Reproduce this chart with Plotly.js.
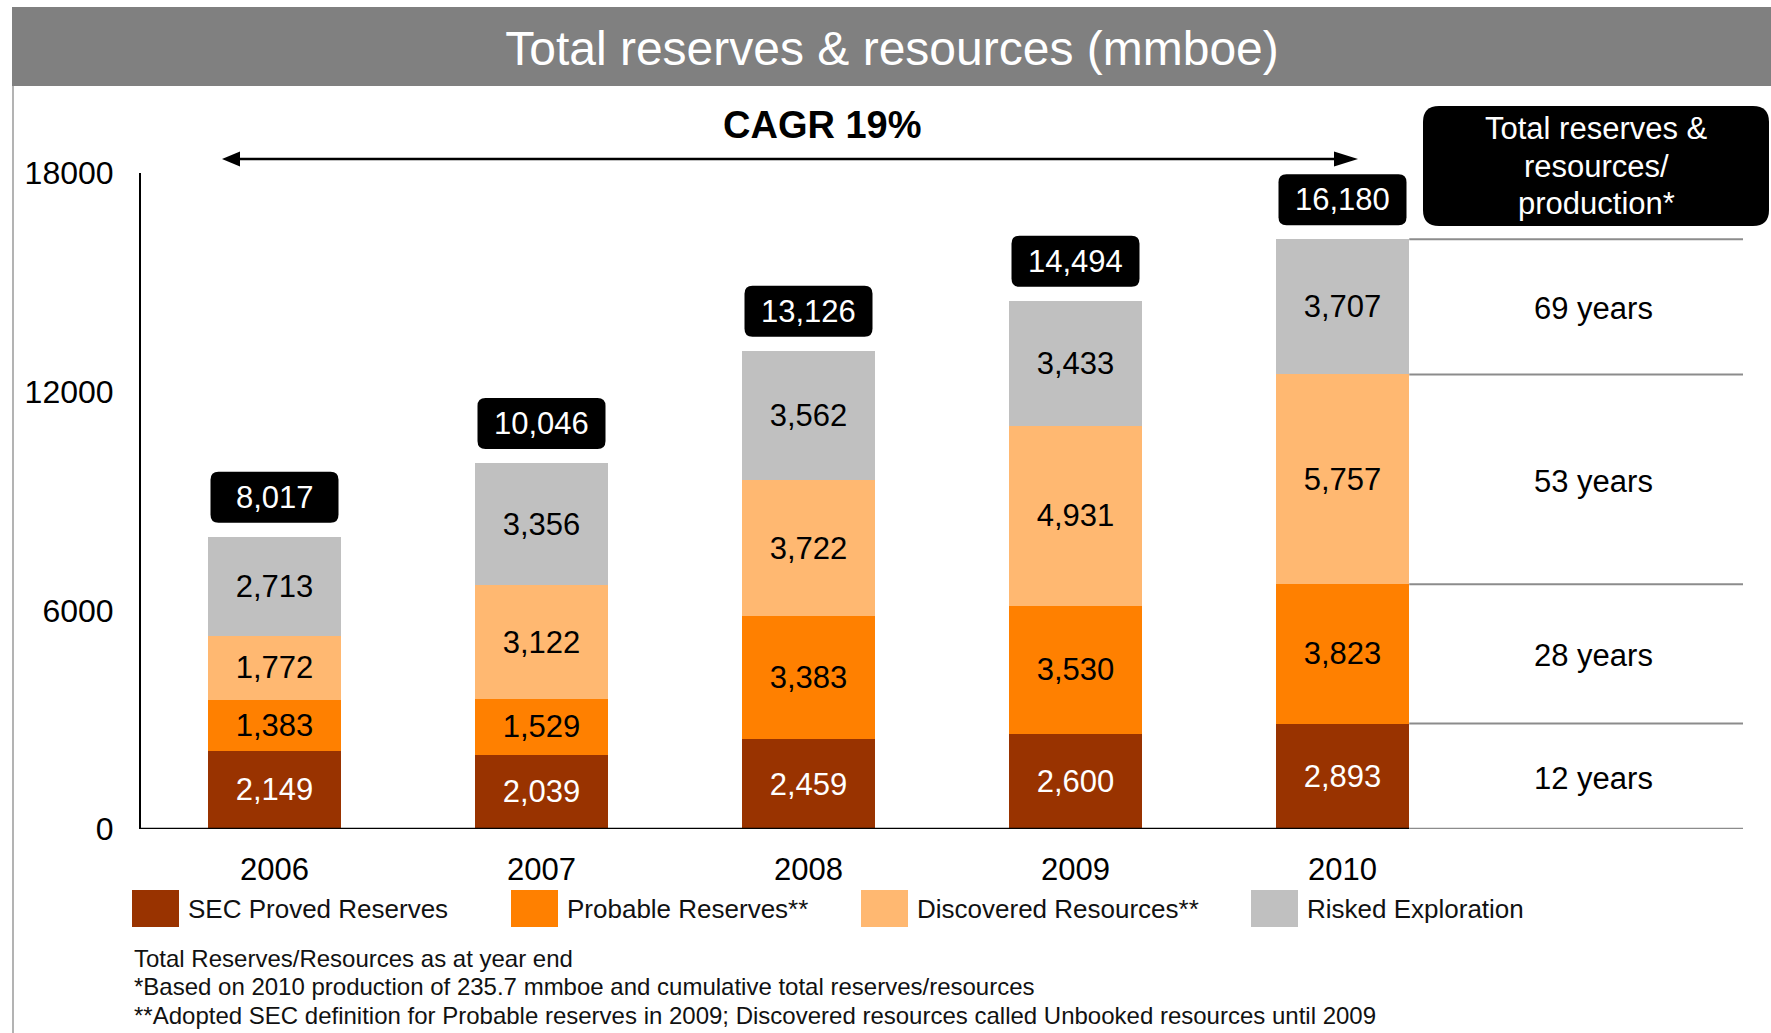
<!DOCTYPE html>
<html><head><meta charset="utf-8">
<script src="https://cdn.plot.ly/plotly-3.0.1.min.js"></script>
<style>html,body{margin:0;padding:0;background:#fff}#chart{width:1771px;height:1033px}</style>
</head><body><div id="chart"></div>
<script>
// ---- data ----
const categories = ['2006', '2007', '2008', '2009', '2010'];
const secProved = [2149, 2039, 2459, 2600, 2893];
const probable = [1383, 1529, 3383, 3530, 3823];
const discovered = [1772, 3122, 3722, 4931, 5757];
const risked = [2713, 3356, 3562, 3433, 3707];
const seriesNames = ['SEC Proved Reserves', 'Probable Reserves**', 'Discovered Resources**', 'Risked Exploration'];
const seriesColors = ['#993300', '#FF8000', '#FFB871', '#C0C0C0'];
const labelColors = ['#ffffff', '#000000', '#000000', '#000000'];
const yTickVals = [0, 6000, 12000, 18000];
const yTickText = ['0', '6000', '12000', '18000'];
const lifeLabels = ['12 years', '28 years', '53 years', '69 years'];
const titleText = 'Total reserves & resources (mmboe)';
const cagrText = 'CAGR 19%';
const tableHeader = ['Total reserves &', 'resources/', 'production*'];
const footnotes = [
  'Total Reserves/Resources as at year end',
  '*Based on 2010 production of 235.7 mmboe and cumulative total reserves/resources',
  '**Adopted SEC definition for Probable reserves in 2009; Discovered resources called Unbooked resources until 2009'
];

// ---- helpers ----
const W = 1771, H = 1033;
const FONT = 'Liberation Sans, Arial, Helvetica, sans-serif';
const px = x => x / W;
const py = y => 1 - y / H;
const P = (x, y) => px(x).toFixed(5) + ',' + py(y).toFixed(5);
function roundRectPaper(x0, y0, x1, y1, r) {
  return 'M' + P(x0 + r, y0) + ' L' + P(x1 - r, y0) + ' Q' + P(x1, y0) + ' ' + P(x1, y0 + r) +
    ' L' + P(x1, y1 - r) + ' Q' + P(x1, y1) + ' ' + P(x1 - r, y1) +
    ' L' + P(x0 + r, y1) + ' Q' + P(x0, y1) + ' ' + P(x0, y1 - r) +
    ' L' + P(x0, y0 + r) + ' Q' + P(x0, y0) + ' ' + P(x0 + r, y0) + ' Z';
}
// pixel-relative rounded rect (y up)
function roundRectPx(x0, yb, x1, yt, r) {
  const p = (x, y) => x + ',' + y;
  return 'M' + p(x0 + r, yt) + ' L' + p(x1 - r, yt) + ' Q' + p(x1, yt) + ' ' + p(x1, yt - r) +
    ' L' + p(x1, yb + r) + ' Q' + p(x1, yb) + ' ' + p(x1 - r, yb) +
    ' L' + p(x0 + r, yb) + ' Q' + p(x0, yb) + ' ' + p(x0, yb + r) +
    ' L' + p(x0, yt - r) + ' Q' + p(x0, yt) + ' ' + p(x0 + r, yt) + ' Z';
}

const series = [secProved, probable, discovered, risked];
const traces = series.map((vals, k) => ({
  type: 'bar', x: categories, y: vals, name: seriesNames[k], width: 0.5,
  marker: {color: seriesColors[k], line: {width: 0}},
  texttemplate: '%{y:,}', textposition: 'inside', insidetextanchor: 'middle',
  constraintext: 'none', cliponaxis: false,
  textfont: {family: FONT, size: 31, color: labelColors[k]},
  hoverinfo: 'skip', showlegend: false
}));

const totals = categories.map((c, i) => series.reduce((s, arr) => s + arr[i], 0));
const last = categories.length - 1;
const levels = [0];
series.forEach(arr => levels.push(levels[levels.length - 1] + arr[last]));

const shapes = [];
const annotations = [];

// header band
shapes.push({type: 'rect', xref: 'paper', yref: 'paper', x0: px(12), x1: 1, y0: py(86), y1: py(7),
  fillcolor: '#808080', line: {width: 0}, layer: 'below'});
// left border
shapes.push({type: 'line', xref: 'paper', yref: 'paper', x0: px(13), x1: px(13), y0: py(86), y1: 0,
  line: {color: '#a6a6a6', width: 1.7}});

// x baseline (black under bars, grey under table)
shapes.push({type: 'line', xref: 'x', yref: 'y', x0: -0.5, x1: last + 0.25, y0: 0, y1: 0,
  line: {color: '#000000', width: 2.5}, layer: 'above'});
shapes.push({type: 'line', xref: 'x', yref: 'y', x0: last + 0.25, x1: 5.5, y0: 0, y1: 0,
  line: {color: '#8c8c8c', width: 2.5}, layer: 'above'});

// table lines and years
for (let k = 1; k < levels.length; k++) {
  shapes.push({type: 'line', xref: 'x', yref: 'y', x0: last + 0.25, x1: 5.5, y0: levels[k], y1: levels[k],
    line: {color: '#8c8c8c', width: 2}});
}
lifeLabels.forEach((t, k) => {
  annotations.push({xref: 'x', yref: 'y', x: 4.94, y: (levels[k] + levels[k + 1]) / 2, yshift: -2, text: t,
    showarrow: false, xanchor: 'center', yanchor: 'middle', font: {family: FONT, size: 31, color: '#000'}});
});

// table header box
shapes.push({type: 'path', xref: 'paper', yref: 'paper', path: roundRectPaper(1423, 106, 1769, 226, 16),
  fillcolor: '#000000', line: {width: 0}});
const headerY = [128, 166, 204];
tableHeader.forEach((t, k) => {
  annotations.push({xref: 'paper', yref: 'paper', x: px(1596), y: py(headerY[k]), text: t, showarrow: false,
    xanchor: 'center', yanchor: 'middle', font: {family: FONT, size: 31, color: '#fff'}});
});

// total boxes
totals.forEach((t, i) => {
  shapes.push({type: 'path', xref: 'x', yref: 'y', xsizemode: 'pixel', ysizemode: 'pixel',
    xanchor: i, yanchor: t, path: roundRectPx(-64, 14, 64, 65, 8), fillcolor: '#000000', line: {width: 0}});
  annotations.push({xref: 'x', yref: 'y', x: i, y: t, yshift: 39.5, text: t.toLocaleString('en-US'),
    showarrow: false, xanchor: 'center', yanchor: 'middle', font: {family: FONT, size: 31, color: '#fff'}});
});

// CAGR arrow
shapes.push({type: 'line', xref: 'paper', yref: 'paper', x0: px(232), x1: px(1340), y0: py(159), y1: py(159),
  line: {color: '#000', width: 2.5}});
shapes.push({type: 'path', xref: 'paper', yref: 'paper',
  path: 'M' + P(222, 159) + ' L' + P(240, 151.5) + ' L' + P(240, 166.5) + ' Z', fillcolor: '#000', line: {width: 0}});
shapes.push({type: 'path', xref: 'paper', yref: 'paper',
  path: 'M' + P(1358, 159) + ' L' + P(1334, 151.5) + ' L' + P(1334, 166.5) + ' Z', fillcolor: '#000', line: {width: 0}});
annotations.push({xref: 'paper', yref: 'paper', x: px(822), y: py(124.5), text: '<b>' + cagrText + '</b>',
  showarrow: false, xanchor: 'center', yanchor: 'middle', font: {family: FONT, size: 38, color: '#000'}});

// legend
const legX = [132, 511, 861, 1251];
seriesNames.forEach((n, k) => {
  shapes.push({type: 'rect', xref: 'paper', yref: 'paper', x0: px(legX[k]), x1: px(legX[k] + 47),
    y0: py(927), y1: py(890), fillcolor: seriesColors[k], line: {width: 0}});
  annotations.push({xref: 'paper', yref: 'paper', x: px(legX[k] + 54), y: py(909), text: n, showarrow: false,
    xanchor: 'left', yanchor: 'middle', font: {family: FONT, size: 26, color: '#111'}});
});

// footnotes
const footY = [958, 986.5, 1015];
footnotes.forEach((t, k) => {
  annotations.push({xref: 'paper', yref: 'paper', x: px(132), y: py(footY[k]), text: t, showarrow: false,
    xanchor: 'left', yanchor: 'middle', font: {family: FONT, size: 24, color: '#111'}});
});

const layout = {
  width: W, height: H,
  margin: {l: 0, r: 0, t: 0, b: 0, pad: 0},
  paper_bgcolor: '#ffffff', plot_bgcolor: 'rgba(0,0,0,0)',
  barmode: 'stack', showlegend: false,
  font: {family: FONT, color: '#000'},
  title: {text: titleText, x: px(892), xanchor: 'center', xref: 'paper', y: py(48.5), yanchor: 'middle', yref: 'container',
    font: {family: FONT, size: 48, color: '#ffffff'}},
  xaxis: {type: 'category', domain: [px(141), px(1743)], range: [-0.5, 5.5], showline: false, showgrid: false,
    zeroline: false, ticks: '', ticklabelstandoff: 19, tickfont: {family: FONT, size: 31, color: '#000'}, fixedrange: true},
  yaxis: {domain: [py(829), py(173)], range: [0, 18000], tickvals: yTickVals, ticktext: yTickText,
    showline: true, linecolor: '#000', linewidth: 2, showgrid: false, zeroline: false, ticks: '',
    ticklabelstandoff: 19, tickfont: {family: FONT, size: 32, color: '#000'}, fixedrange: true},
  shapes: shapes, annotations: annotations
};

Plotly.newPlot('chart', traces, layout, {staticPlot: true, displayModeBar: false});
</script>
</body></html>
